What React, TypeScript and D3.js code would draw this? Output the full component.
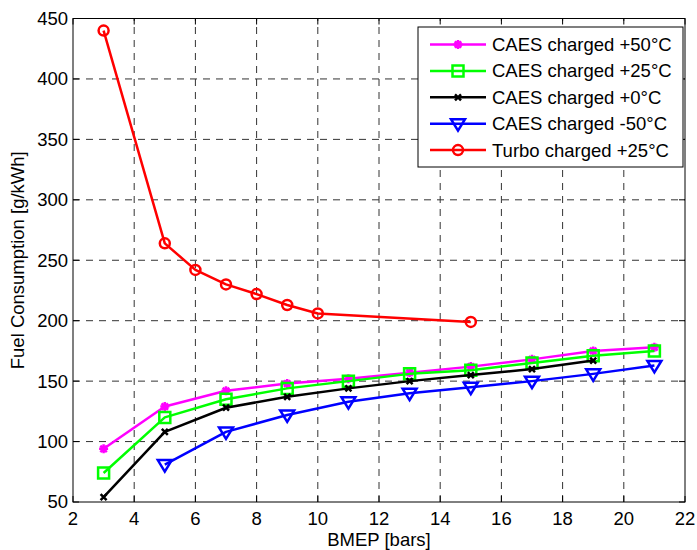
import React from "react";
import * as d3 from "d3";

const W = 697;
const H = 550;

const xTicks = [2, 4, 6, 8, 10, 12, 14, 16, 18, 20, 22];
const yTicks = [50, 100, 150, 200, 250, 300, 350, 400, 450];

const xCaes = [3, 5, 7, 9, 11, 13, 15, 17, 19, 21];
const caes50 = [94, 129, 142, 148, 152, 157, 162, 168, 175, 178];
const caes25 = [74, 120, 135, 144, 150, 156, 159, 165, 171, 175];
const xCaes0 = [3, 5, 7, 9, 11, 13, 15, 17, 19];
const caes0 = [54, 108, 128, 137, 144, 150, 155, 160, 167];
const xCaesM50 = [5, 7, 9, 11, 13, 15, 17, 19, 21];
const caesM50 = [81, 108, 122, 133, 140, 145, 150, 156, 163];
const xTurbo = [3, 5, 6, 7, 8, 9, 10, 15];
const turbo = [440, 264, 242, 230, 222, 213, 206, 199];

const seriesNames = [
  "CAES charged +50\u00B0C",
  "CAES charged +25\u00B0C",
  "CAES charged +0\u00B0C",
  "CAES charged -50\u00B0C",
  "Turbo charged +25\u00B0C",
];

type Marker = "star" | "square" | "x" | "tri" | "circle";

const series: { name: string; xs: number[]; ys: number[]; color: string; marker: Marker }[] = [
  { name: seriesNames[0], xs: xCaes, ys: caes50, color: "#ff00ff", marker: "star" },
  { name: seriesNames[1], xs: xCaes, ys: caes25, color: "#00ff00", marker: "square" },
  { name: seriesNames[2], xs: xCaes0, ys: caes0, color: "#000000", marker: "x" },
  { name: seriesNames[3], xs: xCaesM50, ys: caesM50, color: "#0000ff", marker: "tri" },
  { name: seriesNames[4], xs: xTurbo, ys: turbo, color: "#ff0000", marker: "circle" },
];

const FONT = "'Liberation Sans', Arial, Helvetica, sans-serif";

function markerPath(m: Marker): string {
  switch (m) {
    case "star": {
      const r = 4.5;
      const d = r * 0.72;
      return `M${-r},0L${r},0M0,${-r}L0,${r}M${-d},${-d}L${d},${d}M${-d},${d}L${d},${-d}`;
    }
    case "square": {
      const s = 5.5;
      return `M${-s},${-s}L${s},${-s}L${s},${s}L${-s},${s}Z`;
    }
    case "x": {
      const s = 3;
      return `M${-s},${-s}L${s},${s}M${-s},${s}L${s},${-s}`;
    }
    case "tri":
      return `M-7,-4.5L7,-4.5L0,7Z`;
    case "circle":
      return `M5,0A5,5 0 1,1 -5,0A5,5 0 1,1 5,0Z`;
  }
}

export default function App() {
  const left = 73;
  const right = 685;
  const top = 18.5;
  const bottom = 502;

  const x = d3.scaleLinear().domain([2, 22]).range([left, right]);
  const y = d3.scaleLinear().domain([50, 450]).range([bottom, top]);

  const line = d3
    .line<[number, number]>()
    .x((d) => x(d[0]))
    .y((d) => y(d[1]));

  const gridColor = "#333333";
  const dash = "7,6";
  const lw = 2.5;

  const legend = { x0: 418, y0: 27, x1: 683, y1: 167, rowY0: 44.5, step: 26.4 };

  return (
    <div style={{ position: "fixed", left: 0, top: 0, width: W, height: H, background: "#fff" }}>
      <svg width={W} height={H} style={{ display: "block" }} fontFamily={FONT}>
        <rect x={0} y={0} width={W} height={H} fill="#fff" />
        {/* grid */}
        {xTicks.slice(1, -1).map((t) => (
          <line
            key={"gx" + t}
            x1={x(t)}
            x2={x(t)}
            y1={bottom}
            y2={top}
            stroke={gridColor}
            strokeWidth={1}
            strokeDasharray={dash}
          />
        ))}
        {yTicks.slice(1, -1).map((t) => (
          <line
            key={"gy" + t}
            x1={left}
            x2={right}
            y1={y(t)}
            y2={y(t)}
            stroke={gridColor}
            strokeWidth={1}
            strokeDasharray={dash}
          />
        ))}
        {/* ticks */}
        {xTicks.map((t) => (
          <g key={"tx" + t}>
            <line x1={x(t)} x2={x(t)} y1={bottom} y2={bottom - 6} stroke="#000" />
            <line x1={x(t)} x2={x(t)} y1={top} y2={top + 6} stroke="#000" />
            <text x={x(t)} y={525} fontSize={18.5} textAnchor="middle" fill="#000">
              {t}
            </text>
          </g>
        ))}
        {yTicks.map((t) => (
          <g key={"ty" + t}>
            <line x1={left} x2={left + 6} y1={y(t)} y2={y(t)} stroke="#000" />
            <line x1={right} x2={right - 6} y1={y(t)} y2={y(t)} stroke="#000" />
            <text x={68} y={y(t)} dy="0.35em" fontSize={18.5} textAnchor="end" fill="#000">
              {t}
            </text>
          </g>
        ))}
        {/* axes box */}
        <rect
          x={left}
          y={top}
          width={right - left}
          height={bottom - top}
          fill="none"
          stroke="#000"
          strokeWidth={1}
        />
        {/* series */}
        {series.map((s) => {
          const pts: [number, number][] = s.xs.map((v, i) => [v, s.ys[i]]);
          return (
            <g key={s.name}>
              <path d={line(pts) || ""} fill="none" stroke={s.color} strokeWidth={lw} strokeLinejoin="round" />
              {pts.map((p, i) => (
                <path
                  key={i}
                  d={markerPath(s.marker)}
                  transform={`translate(${x(p[0])},${y(p[1])})`}
                  fill="none"
                  stroke={s.color}
                  strokeWidth={lw}
                />
              ))}
            </g>
          );
        })}
        {/* legend */}
        <rect
          x={legend.x0}
          y={legend.y0}
          width={legend.x1 - legend.x0}
          height={legend.y1 - legend.y0}
          fill="#fff"
          stroke="#000"
          strokeWidth={1}
        />
        {series.map((s, i) => {
          const cy = legend.rowY0 + i * legend.step;
          return (
            <g key={"lg" + i}>
              <line x1={430} x2={486} y1={cy} y2={cy} stroke={s.color} strokeWidth={lw} />
              <path
                d={markerPath(s.marker)}
                transform={`translate(458,${cy})`}
                fill="none"
                stroke={s.color}
                strokeWidth={lw}
              />
              <text x={492} y={cy} dy="0.35em" fontSize={18.5} fill="#000">
                {s.name}
              </text>
            </g>
          );
        })}
        {/* axis labels */}
        <text x={(left + right) / 2} y={546} fontSize={18.5} textAnchor="middle" fill="#000">
          BMEP [bars]
        </text>
        <text
          transform={`translate(24,${(top + bottom) / 2}) rotate(-90)`}
          fontSize={18.5}
          textAnchor="middle"
          fill="#000"
        >
          Fuel Consumption [g/kWh]
        </text>
      </svg>
    </div>
  );
}
